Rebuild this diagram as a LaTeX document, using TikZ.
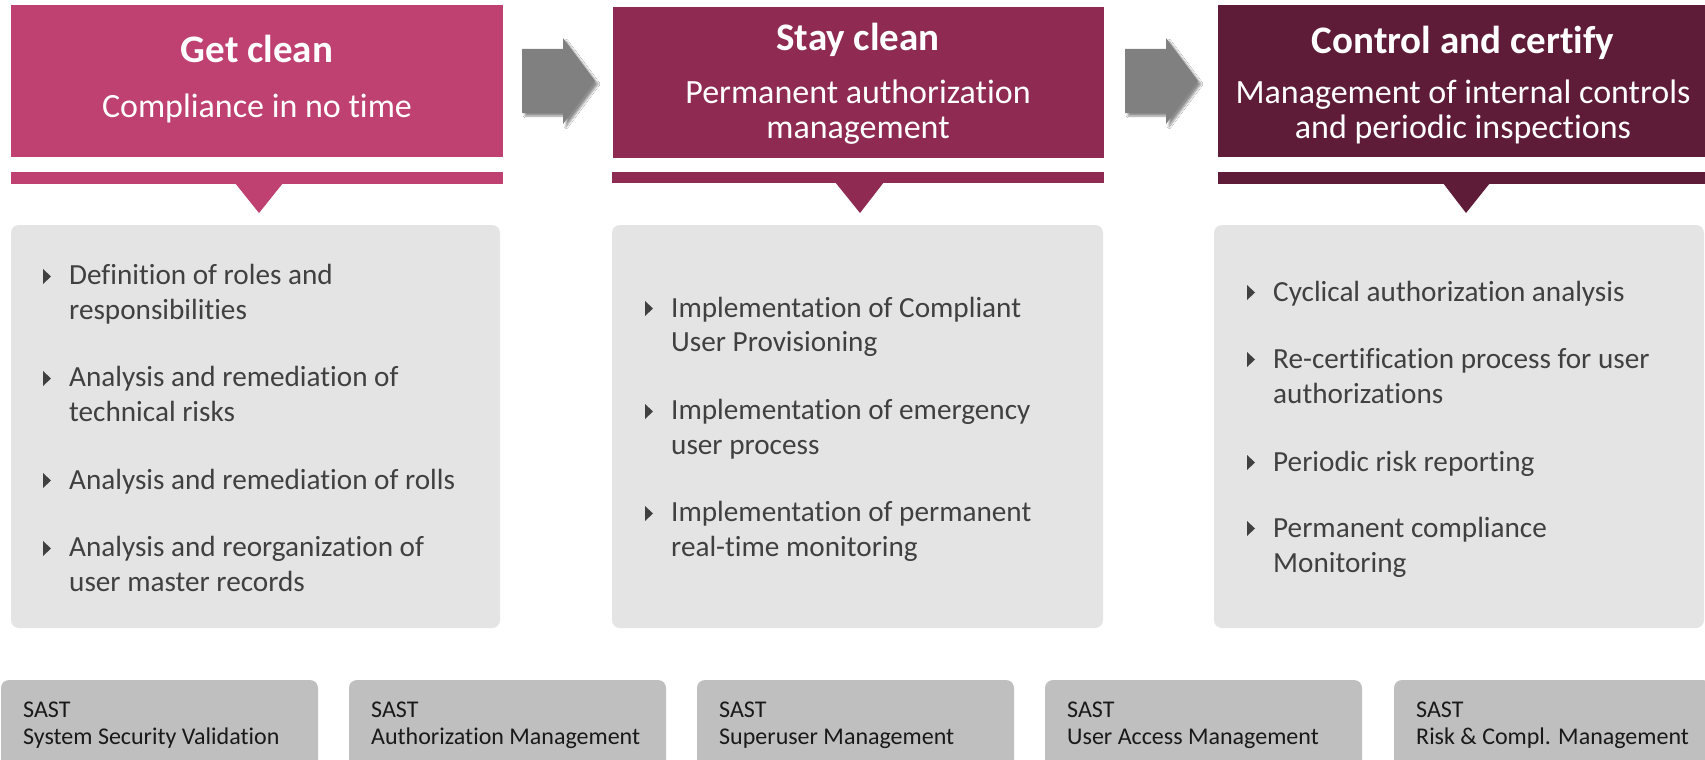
\documentclass[tikz,border=0pt]{standalone}
\usepackage{fontspec}
\setmainfont{Carlito}[Ligatures=NoCommon]
\usetikzlibrary{shadows.blur}
\definecolor{headA}{RGB}{191,65,113}
\definecolor{headB}{RGB}{143,43,82}
\definecolor{headC}{RGB}{94,28,56}
\definecolor{panel}{RGB}{228,228,228}
\definecolor{tool}{RGB}{191,191,191}
\definecolor{bodytext}{RGB}{64,64,64}
\definecolor{arrowgray}{RGB}{128,128,128}
\tikzset{
  titletext/.style={text=white, font=\fontsize{39}{44}\selectfont\bfseries, inner sep=0pt, anchor=base},
  subtext/.style={text=white, font=\fontsize{34}{34.5}\selectfont, align=center, inner sep=0pt, anchor=base},
  itemtext/.style={text=bodytext, font=\fontsize{29.2}{34.3}\selectfont, align=left, inner sep=0pt, anchor=base west},
  tooltext/.style={text=black!90, font=\fontsize{24}{27}\selectfont, align=left, inner sep=0pt, anchor=base west},
  panelbox/.style={fill=panel, rounded corners=8pt},
  toolbox/.style={fill=tool, rounded corners=8pt},
  flowarrow/.style={fill=arrowgray, blur shadow={shadow xshift=3pt, shadow yshift=-3pt, shadow blur steps=6, shadow opacity=45}},
}
% name, x, first baseline, last baseline, text
\newcommand\bitem[5]{%
  \fill[bodytext] (#2-26,#3-16) -- (#2-18,#3-8.5) -- (#2-26,#3-1) -- cycle;
  \node[itemtext] (#1) at (#2,#4) {#5};
}
\newcommand\toolbx[4]{%
  \fill[toolbox] (#2,680) rectangle (#2+317,800);
  \node[tooltext] (#1) at (#2+22,744) {#3\\#4};
}
\begin{document}
\begin{tikzpicture}[x=1pt,y=-1pt]
\clip (0,0) rectangle (1705,760);
\fill[white] (0,0) rectangle (1705,760);
% headers
\fill[headA] (11,5) rectangle (503,157);
\fill[headB] (613,7) rectangle (1104,158);
\fill[headC] (1218,5) rectangle (1705,157);
\node[titletext] (t1) at (257,63) {Get clean};
\node[subtext] (s1) at (257,117) {Compliance in no time};
\node[titletext] (t2) at (858,51) {Stay clean};
\node[subtext] (s2) at (858,138) {Permanent authorization\\management};
\node[titletext] (t3) at (1463,53) {Control and certify};
\node[subtext] (s3) at (1463,138) {Management of internal controls\\and periodic inspections};
% arrows
\fill[flowarrow] (522,49) -- (563,49) -- (563,38) -- (595,81) -- (563,124) -- (563,113) -- (522,113) -- cycle;
\fill[flowarrow] (1125,49) -- (1166,49) -- (1166,38) -- (1198,81) -- (1166,124) -- (1166,113) -- (1125,113) -- cycle;
% bars with pointers
\fill[headA] (11,172) rectangle (503,184);
\fill[headA] (235,183) -- (283,183) -- (259,213) -- cycle;
\fill[headB] (612,172) rectangle (1104,183);
\fill[headB] (835,182) -- (884,182) -- (860,213) -- cycle;
\fill[headC] (1218,172) rectangle (1705,184);
\fill[headC] (1443,183) -- (1490,183) -- (1466,213) -- cycle;
% panels
\fill[panelbox] (11,225) rectangle (500,628);
\fill[panelbox] (612,225) rectangle (1103,628);
\fill[panelbox] (1214,225) rectangle (1704,628);
% items column 1
\bitem{a1}{69}{285}{319}{Definition of roles and\\responsibilities}
\bitem{a2}{69}{387}{421}{Analysis and remediation of\\technical risks}
\bitem{a3}{69}{489}{489}{Analysis and remediation of rolls}
\bitem{a4}{69}{557}{591}{Analysis and reorganization of\\user master records}
% items column 2
\bitem{b1}{671}{317}{351.5}{Implementation of Compliant\\User Provisioning}
\bitem{b2}{671}{420}{454}{Implementation of emergency\\user process}
\bitem{b3}{671}{522}{556}{Implementation of permanent\\real-time monitoring}
% items column 3
\bitem{c1}{1273}{301}{301}{Cyclical authorization analysis}
\bitem{c2}{1273}{368}{403}{Re-certification process for user\\authorizations}
\bitem{c3}{1273}{471}{471}{Periodic risk reporting}
\bitem{c4}{1273}{537}{572}{Permanent compliance\\Monitoring}
% tool boxes
\toolbx{m1}{1}{SAST}{System Security Validation}
\toolbx{m2}{349}{SAST}{Authorization Management}
\toolbx{m3}{697}{SAST}{Superuser Management}
\toolbx{m4}{1045}{SAST}{User Access Management}
\toolbx{m5}{1394}{SAST}{Risk \& Compl. Management}
\end{tikzpicture}
\end{document}
